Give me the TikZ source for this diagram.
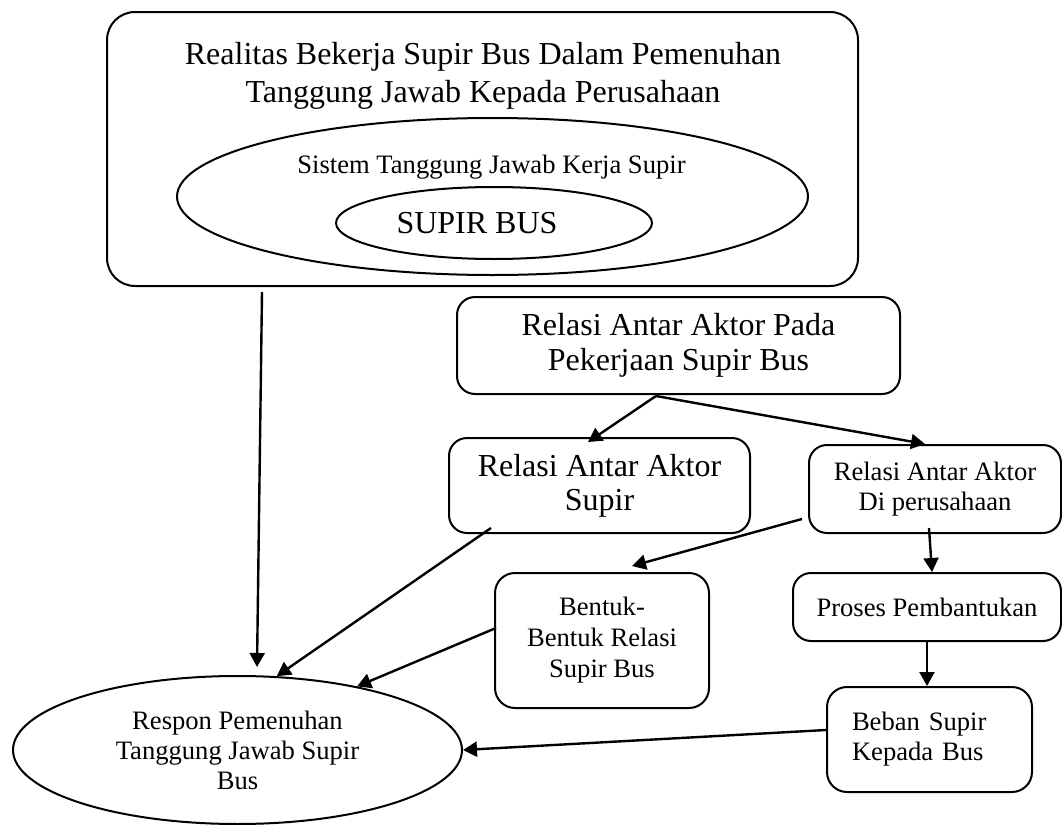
\documentclass[tikz,border=0pt]{standalone}
\usepackage{fontspec}
\setmainfont{Liberation Serif}
\usetikzlibrary{
  arrows.meta,
  shapes.geometric
}
\tikzset{
  box/.style={draw, line width=1pt, rounded corners=9pt, align=center, inner sep=0pt},
  oval/.style={draw, ellipse, line width=1pt, align=center, inner sep=0pt},
  arr/.style={line width=1.2pt, -{Triangle[length=7pt,width=7.5pt]}},
  bigfont/.style={font=\fontsize{16pt}{17.5pt}\selectfont},
  smallfont/.style={font=\fontsize{13.3pt}{15pt}\selectfont}
}

\begin{document}
\begin{tikzpicture}[x=0.5pt,y=-0.5pt]
		\useasboundingbox (0,0) rectangle (1062,825);
		% frame with the two ellipses
		\node[box, rounded corners=14pt, minimum width=375.5pt, minimum height=137pt] (realitas) at (482.5,149) {};
		\node[font=\fontsize{16pt}{19pt}\selectfont, align=center] (realitasjudul) at (483,76)
			{Realitas Bekerja Supir Bus Dalam Pemenuhan\\Tanggung Jawab Kepada Perusahaan};
		\node[oval, minimum width=315.5pt, minimum height=78.5pt] (sistem) at (492.5,196.5) {};
		\node[smallfont] (sistemjudul) at (491.5,167) {Sistem Tanggung Jawab Kerja Supir};
		\node[oval, minimum width=158pt, minimum height=36pt] (supirbus) at (494,223) {};
		\node[bigfont, inner sep=0pt] (supirbusjudul) at (477,223.5) {SUPIR BUS};
		% relasi
		\node[box, bigfont, minimum width=221.5pt, minimum height=48.5pt] (pada) at (678.5,345.5)
			{Relasi Antar Aktor Pada\\Pekerjaan Supir Bus};
		\node[box, bigfont, font=\fontsize{16pt}{17pt}\selectfont, minimum width=150.5pt, minimum height=47.5pt] (antarsupir) at (599.5,485.5)
			{Relasi Antar Aktor\\Supir};
		\node[box, smallfont, minimum width=126pt, minimum height=44pt] (diperusahaan) at (935,489)
			{Relasi Antar Aktor\\Di perusahaan};
		\node[box, smallfont, font=\fontsize{13.3pt}{15.5pt}\selectfont, rounded corners=10pt, minimum width=107pt, minimum height=67.5pt] (bentuk) at (602,640.5)
			{Bentuk-\\Bentuk Relasi\\Supir Bus};
		\node[box, smallfont, minimum width=134pt, minimum height=34pt] (proses) at (927,607)
			{Proses Pembantukan};
		\node[box, smallfont, rounded corners=10pt, align=left, text width=77.5pt, inner xsep=12.5pt, minimum height=52.5pt] (beban) at (929.5,739.5)
			{Beban Supir\\Kepada Bus};
		\node[oval, smallfont, minimum width=224.5pt, minimum height=74pt] (respon) at (237.5,750)
			{Respon Pemenuhan\\Tanggung Jawab Supir\\Bus};
		% panah
		\draw[arr] ([xshift=-110.25pt, yshift=-2.5pt]realitas.south) -- ([xshift=9.75pt, yshift=4pt]respon.north);
		\draw[arr] ([xshift=21.5pt, yshift=3pt]antarsupir.south west) -- (respon.62);
		\draw[arr] ([xshift=1pt, yshift=6.25pt]bentuk.west) -- (respon.28);
		\draw[arr] ([yshift=4.75pt]beban.west) -- (respon.east);
		\draw[arr] ([xshift=-11.25pt, yshift=-0.5pt]pada.south) -- ([xshift=-5.75pt, yshift=-2.5pt]antarsupir.north);
		\draw[arr] ([xshift=-11.25pt, yshift=-0.5pt]pada.south) -- ([xshift=-5pt]diperusahaan.north);
		\draw[arr] ([xshift=-3pt, yshift=-15pt]diperusahaan.west) -- ([xshift=15pt, yshift=3pt]bentuk.north);
		\draw[arr] ([xshift=-3pt, yshift=3pt]diperusahaan.south) -- ([xshift=2.5pt]proses.north);
		\draw[arr] (proses.south) -- ([xshift=-1.25pt]beban.north);
\end{tikzpicture}
\end{document}
